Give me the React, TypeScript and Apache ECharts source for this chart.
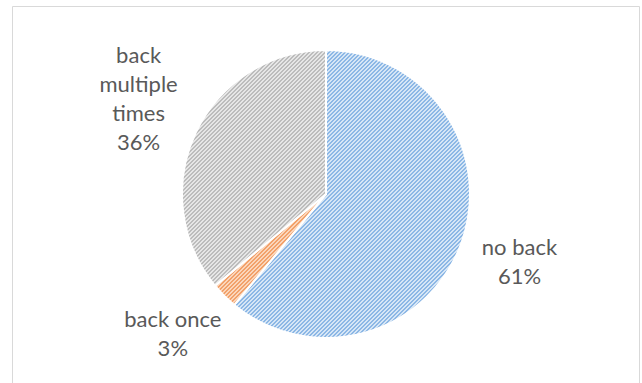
import React, { useEffect, useRef } from "react";
import * as echarts from "echarts";

const categories = ["no back", "back once", "back multiple times"];
const values = [61, 3, 36];
const stripeColors = ["#8cb7e5", "#f2a16a", "#bcbcbc"];
const backColors = ["#d6e6f6", "#fbd6bb", "#e6e6e6"];

function makePattern(fg: string, bg: string) {
  const c = document.createElement("canvas");
  c.width = 4;
  c.height = 4;
  const ctx = c.getContext("2d")!;
  ctx.fillStyle = bg;
  ctx.fillRect(0, 0, 4, 4);
  ctx.fillStyle = fg;
  for (let x = 0; x < 4; x++) {
    for (let y = 0; y < 4; y++) {
      if ((x + y) % 4 < 2) ctx.fillRect(x, y, 1, 1);
    }
  }
  return { image: c, repeat: "repeat" as const };
}

function wrap(name: string, maxChars: number) {
  const words = name.split(" ");
  const lines: string[] = [];
  let cur = "";
  words.forEach((w) => {
    const next = cur ? cur + " " + w : w;
    if (next.length > maxChars && cur) {
      lines.push(cur);
      cur = w;
    } else {
      cur = next;
    }
  });
  if (cur) lines.push(cur);
  return lines.join("\n");
}

const CX = 326;
const CY = 194;
const R = 144;
const LABEL_DIST = 168;

export default function App() {
  const ref = useRef<HTMLDivElement>(null);
  useEffect(() => {
    document.body.style.margin = "0";
    const chart = echarts.init(ref.current!, null, { renderer: "svg" });
    const total = values.reduce((a, b) => a + b, 0);
    const starts: number[] = [];
    let acc = 0;
    values.forEach((v) => {
      starts.push(acc);
      acc += v;
    });
    chart.setOption({
      animation: false,
      backgroundColor: "#ffffff",
      graphic: [
        {
          type: "rect",
          shape: { x: 12.5, y: 6.5, width: 627, height: 420 },
          style: { fill: "none", stroke: "#d9d9d9", lineWidth: 1 },
          silent: true,
        },
      ],
      series: [
        {
          type: "pie",
          center: [CX, CY],
          radius: R,
          startAngle: 90,
          clockwise: true,
          percentPrecision: 0,
          itemStyle: { borderColor: "#ffffff", borderWidth: 2 },
          label: {
            show: true,
            position: "outside",
            formatter: (p: any) => wrap(p.name, 9) + "\n" + p.percent + "%",
            fontFamily: "Lato, 'Open Sans', sans-serif",
            fontSize: 22,
            lineHeight: 29,
            color: "#595959",
            align: "center",
          },
          labelLine: { show: false },
          emphasis: { disabled: true },
          labelLayout: (params: any) => {
            const i = params.dataIndex;
            const theta = ((starts[i] + values[i] / 2) / total) * Math.PI * 2;
            const dx = Math.sin(theta);
            const dy = -Math.cos(theta);
            const w = params.labelRect.width;
            const h = params.labelRect.height;
            return {
              x: CX + dx * LABEL_DIST + (dx * w) / 2,
              y: CY + dy * LABEL_DIST + (dy * h) / 2,
              align: "center",
              verticalAlign: "middle",
            };
          },
          data: categories.map((name, i) => ({
            name,
            value: values[i],
            itemStyle: { color: makePattern(stripeColors[i], backColors[i]) },
          })),
        },
      ],
    });
    return () => chart.dispose();
  }, []);
  return <div ref={ref} style={{ width: 642, height: 383 }} />;
}
